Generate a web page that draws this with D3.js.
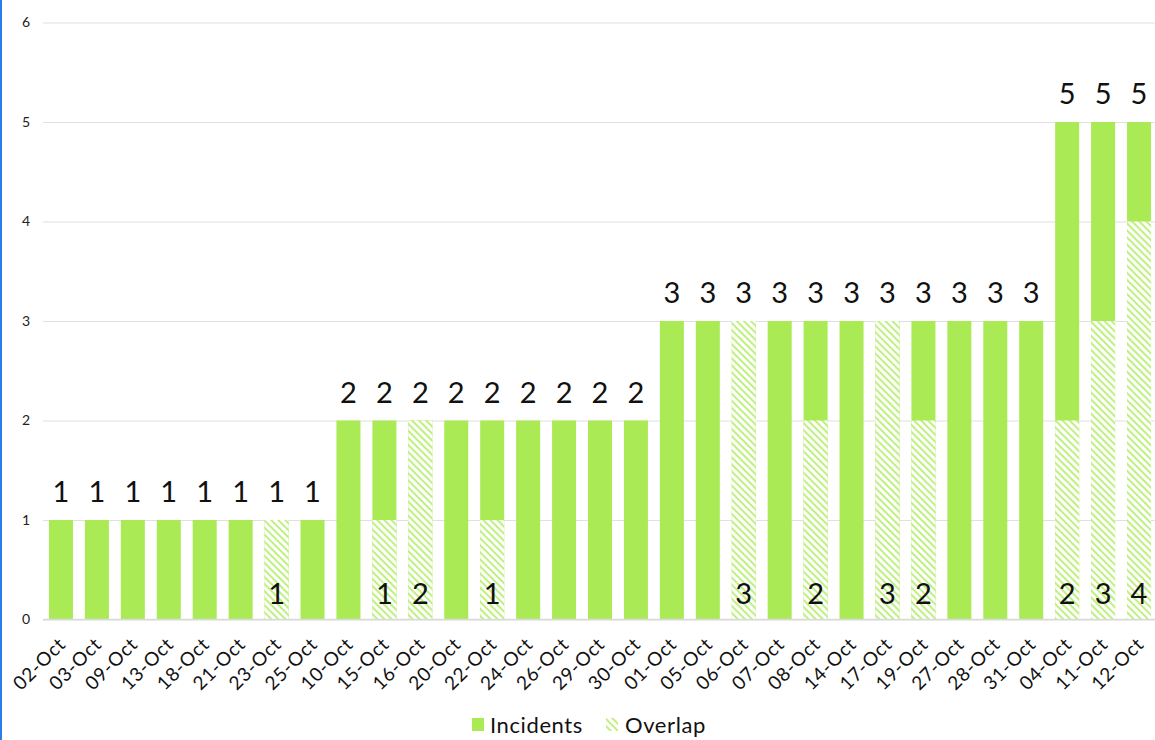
<!DOCTYPE html>
<html>
<head>
<meta charset="utf-8">
<script src="https://cdn.jsdelivr.net/npm/d3@7"></script>
<style>
  html, body { margin: 0; padding: 0; background: #fff; }
  svg { display: block; }
  text { font-family: Lato, "Noto Sans", sans-serif; fill: #111; }
</style>
</head>
<body>
<svg id="chart" width="1155" height="740"></svg>
<script>
const categories = ["02-Oct","03-Oct","09-Oct","13-Oct","18-Oct","21-Oct","23-Oct","25-Oct",
  "10-Oct","15-Oct","16-Oct","20-Oct","22-Oct","24-Oct","26-Oct","29-Oct","30-Oct",
  "01-Oct","05-Oct","06-Oct","07-Oct","08-Oct","14-Oct","17-Oct","19-Oct","27-Oct","28-Oct","31-Oct",
  "04-Oct","11-Oct","12-Oct"];
const incidents = [1,1,1,1,1,1,1,1, 2,2,2,2,2,2,2,2,2, 3,3,3,3,3,3,3,3,3,3,3, 5,5,5];
const overlap   = [0,0,0,0,0,0,1,0, 0,1,2,0,1,0,0,0,0, 0,0,3,0,2,0,3,2,0,0,0, 2,3,4];
const yTicks = [0,1,2,3,4,5,6];

const green = "#a9ea55";
const svg = d3.select("#chart");

const x = d3.scaleBand().domain(categories).range([43, 1157]).paddingInner(0.332).paddingOuter(0.166);
const y = d3.scaleLinear().domain([0, 6]).range([619.5, 22.5]);

// hatch pattern for the overlap series (diagonal, top-left to bottom-right)
const defs = svg.append("defs");
const pat = defs.append("pattern")
  .attr("id", "hatch").attr("patternUnits", "userSpaceOnUse")
  .attr("width", 5).attr("height", 5)
  .attr("patternTransform", "rotate(45)");
pat.append("rect").attr("width", 5).attr("height", 5).attr("fill", "#fff");
pat.append("rect").attr("x", 0).attr("y", 0).attr("width", 5).attr("height", 2)
  .attr("fill", green).attr("opacity", 0.75);

// left edge accent
svg.append("rect").attr("x", 0).attr("y", 0).attr("width", 2).attr("height", 740).attr("fill", "#2b7de9");

// gridlines + y labels
const yAxis = d3.axisLeft(y).tickValues(yTicks).tickFormat(d3.format("d"))
  .tickSize(-(1155 - 43)).tickPadding(13);
const gy = svg.append("g").attr("transform", "translate(43,0)").call(yAxis);
gy.select(".domain").remove();
gy.selectAll(".tick line").attr("stroke", "#e0e0e0").attr("stroke-width", 1.2);
gy.selectAll(".tick text").attr("font-size", 14).style("fill", "#222");

// incidents bars (totals)
svg.append("g").selectAll("rect").data(categories).join("rect")
  .attr("x", d => x(d)).attr("width", x.bandwidth())
  .attr("y", (d, i) => y(incidents[i]))
  .attr("height", (d, i) => y(0) - y(incidents[i]))
  .attr("fill", green);

// overlap bars drawn in front
svg.append("g").selectAll("rect").data(categories.filter((d, i) => overlap[i] > 0)).join("rect")
  .attr("x", d => x(d)).attr("width", x.bandwidth())
  .attr("y", d => y(overlap[categories.indexOf(d)]))
  .attr("height", d => y(0) - y(overlap[categories.indexOf(d)]))
  .attr("fill", "url(#hatch)");

// baseline
svg.append("line").attr("x1", 43).attr("x2", 1155).attr("y1", y(0)).attr("y2", y(0))
  .attr("stroke", "#d9d9d9").attr("stroke-width", 1.5);

// total labels
svg.append("g").selectAll("text").data(categories).join("text")
  .attr("x", d => x(d) + x.bandwidth() / 2)
  .attr("y", (d, i) => y(incidents[i]) - 18)
  .attr("text-anchor", "middle").attr("font-size", 29)
  .text((d, i) => incidents[i]);

// overlap labels
svg.append("g").selectAll("text").data(categories.filter((d, i) => overlap[i] > 0)).join("text")
  .attr("x", d => x(d) + x.bandwidth() / 2)
  .attr("y", y(0) - 16)
  .attr("text-anchor", "middle").attr("font-size", 29)
  .text(d => overlap[categories.indexOf(d)]);

// x labels
const xAxis = d3.axisBottom(x).tickSize(0).tickPadding(0);
const gx = svg.append("g").attr("transform", `translate(0,${y(0)})`).call(xAxis);
gx.select(".domain").remove();
gx.selectAll(".tick text")
  .attr("font-size", 19).style("fill", "#111").style("letter-spacing", "0.8px")
  .attr("text-anchor", "end").attr("dy", 0).attr("y", 0)
  .attr("transform", "translate(6,26) rotate(-45)");

// legend
const lg = svg.append("g").attr("transform", "translate(472,725)");
lg.append("rect").attr("x", 0).attr("y", -7).attr("width", 12).attr("height", 13).attr("fill", green);
lg.append("text").attr("x", 18).attr("y", 8).attr("font-size", 22).style("letter-spacing", "0.6px").text("Incidents");
lg.append("rect").attr("x", 134).attr("y", -7).attr("width", 12).attr("height", 13).attr("fill", "url(#hatch)");
lg.append("text").attr("x", 153).attr("y", 8).attr("font-size", 22).style("letter-spacing", "0.6px").text("Overlap");
</script>
</body>
</html>
